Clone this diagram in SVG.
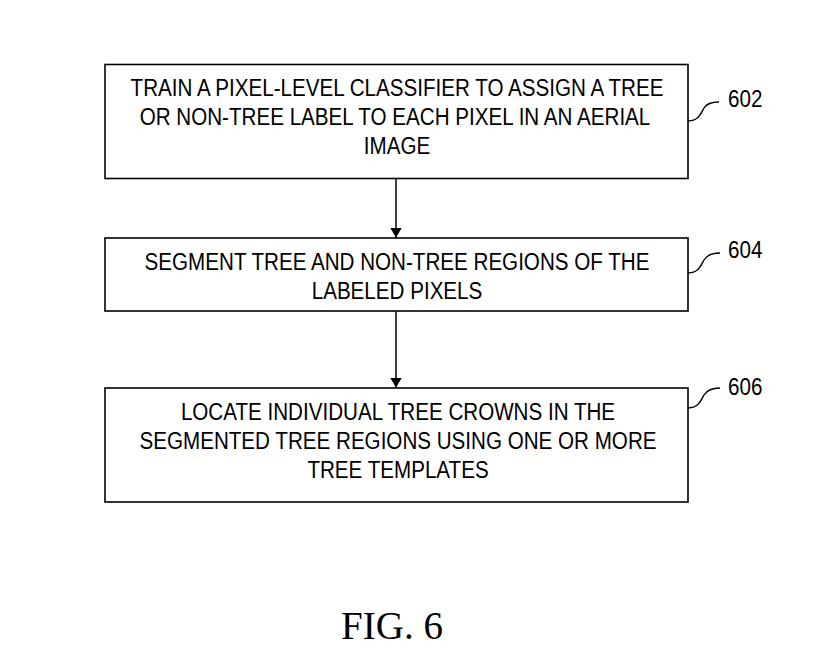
<svg xmlns="http://www.w3.org/2000/svg" width="835" height="655" viewBox="0 0 835 655">
<defs>
<style>
.box{fill:#fff;stroke:#000;stroke-width:1.6}
.t{font-family:"Liberation Sans",Arial,sans-serif;font-size:23.5px;fill:#000;text-anchor:middle}
.ref{font-family:"Liberation Sans",Arial,sans-serif;font-size:23.5px;fill:#000}
.lead{fill:none;stroke:#000;stroke-width:1.4}
.conn{stroke:#000;stroke-width:1.5;fill:none}
.fig{font-family:"Liberation Serif","Times New Roman",serif;font-size:39px;fill:#000;text-anchor:middle}
</style>
<marker id="ah" viewBox="0 0 10 12" refX="10" refY="6" markerWidth="10" markerHeight="12" markerUnits="userSpaceOnUse" orient="auto">
<path d="M0,0 L10,6 L0,12 Z" fill="#000"/>
</marker>
</defs>
<rect width="835" height="655" fill="#fff"/>
<g id="node-602">
<rect class="box" x="105" y="64.5" width="583" height="114"/>
<text class="t" transform="translate(397 96) scale(0.877 1)">TRAIN A PIXEL-LEVEL CLASSIFIER TO ASSIGN A TREE</text>
<text class="t" transform="translate(395 125) scale(0.877 1)">OR NON-TREE LABEL TO EACH PIXEL IN AN AERIAL</text>
<text class="t" transform="translate(397 154) scale(0.877 1)">IMAGE</text>
<path class="lead" d="M688,121 C699,121 701,113 704,108 C707,103 712,102 719,102"/>
<text class="ref" transform="translate(728 107) scale(0.877 1)">602</text>
</g>
<g id="node-604">
<rect class="box" x="105" y="238" width="583" height="73"/>
<text class="t" transform="translate(397 270) scale(0.877 1)">SEGMENT TREE AND NON-TREE REGIONS OF THE</text>
<text class="t" transform="translate(397 299) scale(0.877 1)">LABELED PIXELS</text>
<path class="lead" d="M688,273 C699,273 701,265 704,260 C707,255 712,253 720,253"/>
<text class="ref" transform="translate(728 258) scale(0.877 1)">604</text>
</g>
<g id="node-606">
<rect class="box" x="105" y="388" width="583" height="114"/>
<text class="t" transform="translate(398 420) scale(0.877 1)">LOCATE INDIVIDUAL TREE CROWNS IN THE</text>
<text class="t" transform="translate(398 449) scale(0.877 1)">SEGMENTED TREE REGIONS USING ONE OR MORE</text>
<text class="t" transform="translate(398 478) scale(0.877 1)">TREE TEMPLATES</text>
<path class="lead" d="M688,408 C699,408 701,400 704,395 C707,390 712,388 720,388"/>
<text class="ref" transform="translate(728 395) scale(0.877 1)">606</text>
</g>
<g id="connectors">
<line class="conn" x1="396" y1="179" x2="396" y2="237.5" marker-end="url(#ah)"/>
<line class="conn" x1="396" y1="311.5" x2="396" y2="387.5" marker-end="url(#ah)"/>
</g>
<text class="fig" x="392" y="639">FIG. 6</text>
</svg>
